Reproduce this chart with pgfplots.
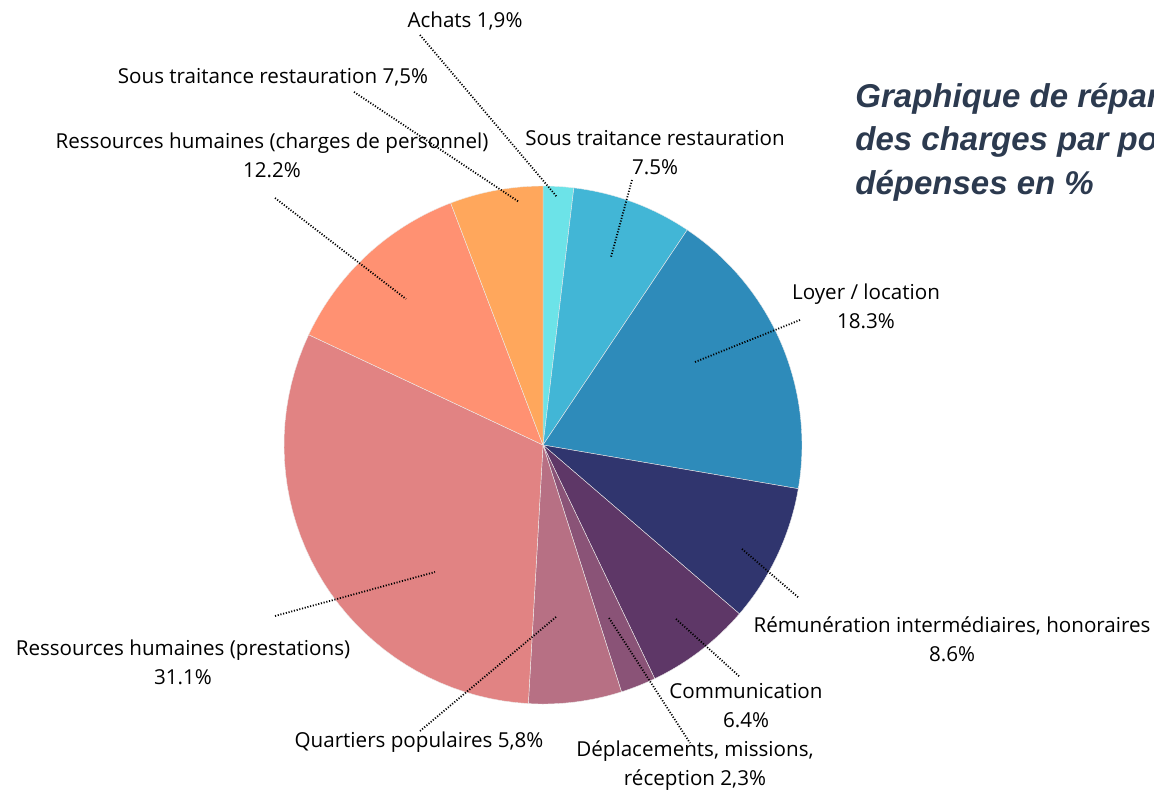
\documentclass[border=0pt]{standalone}
\usepackage{pgfplots}
\pgfplotsset{compat=1.18}
\usepackage{fontspec}
\setmainfont{Open Sans}
\newfontfamily\titlefont{Liberation Sans}
\definecolor{cAch}{HTML}{6CE3E8}
\definecolor{cST}{HTML}{42B6D6}
\definecolor{cLoy}{HTML}{2E8BBA}
\definecolor{cRem}{HTML}{30356E}
\definecolor{cCom}{HTML}{5E3767}
\definecolor{cDep}{HTML}{8A5377}
\definecolor{cQua}{HTML}{B77084}
\definecolor{cRHp}{HTML}{E18383}
\definecolor{cRHc}{HTML}{FF9172}
\definecolor{cSTb}{HTML}{FFA75C}
\definecolor{titlec}{HTML}{2C3A4F}
% slice values (share of the circle, %)
\def\vA{1.9}  % Achats
\def\vB{7.5}  % Sous traitance restauration
\def\vC{18.3} % Loyer
\def\vD{8.6}  % Remuneration
\def\vE{6.6}  % Communication
\def\vF{2.2}  % Deplacements
\def\vG{5.8}  % Quartiers populaires
\def\vH{31.1} % RH prestations
\def\vI{12.2} % RH charges
\def\vJ{5.8}  % Sous traitance restauration (2)
\begin{document}
\begin{tikzpicture}
\useasboundingbox (0,0) rectangle (577pt,395.5pt);
\clip (0,0) rectangle (577pt,395.5pt);
\begin{axis}[
  at={(0,0)}, anchor=south west,
  scale only axis, width=577pt, height=395.5pt,
  xmin=0, xmax=1154, ymin=0, ymax=791, y dir=reverse,
  hide axis, clip=false,
  every axis plot/.append style={draw=white!85!gray, line width=0.2pt, samples=40},
]
\newcommand{\slice}[3]{%
  \addplot[fill=#1, domain={90-3.6*(#3)}:{90-3.6*(#2)}]
    ({543+259*cos(x)},{445-259*sin(x)}) -- (543,445) -- cycle;}
\slice{cAch}{0}{\vA}
\slice{cST}{\vA}{\vA+\vB}
\slice{cLoy}{\vA+\vB}{\vA+\vB+\vC}
\slice{cRem}{\vA+\vB+\vC}{\vA+\vB+\vC+\vD}
\slice{cCom}{\vA+\vB+\vC+\vD}{\vA+\vB+\vC+\vD+\vE}
\slice{cDep}{\vA+\vB+\vC+\vD+\vE}{\vA+\vB+\vC+\vD+\vE+\vF}
\slice{cQua}{\vA+\vB+\vC+\vD+\vE+\vF}{\vA+\vB+\vC+\vD+\vE+\vF+\vG}
\slice{cRHp}{\vA+\vB+\vC+\vD+\vE+\vF+\vG}{\vA+\vB+\vC+\vD+\vE+\vF+\vG+\vH}
\slice{cRHc}{\vA+\vB+\vC+\vD+\vE+\vF+\vG+\vH}{\vA+\vB+\vC+\vD+\vE+\vF+\vG+\vH+\vI}
\slice{cSTb}{\vA+\vB+\vC+\vD+\vE+\vF+\vG+\vH+\vI}{\vA+\vB+\vC+\vD+\vE+\vF+\vG+\vH+\vI+\vJ}

% leader lines
\tikzset{lead/.style={black, line width=0.9pt, dash pattern=on 0.55pt off 0.85pt}}
\draw[lead] (420,35) -- (557,197);
\draw[lead] (354,92) -- (519,202);
\draw[lead] (275,198) -- (406,299);
\draw[lead] (632,180) -- (611,257);
\draw[lead] (800,320) -- (695,362);
\draw[lead] (742,549) -- (799,598);
\draw[lead] (676,619) -- (740,677);
\draw[lead] (609,618) -- (690,743);
\draw[lead] (275,616) -- (435,572);
\draw[lead] (420,731) -- (556,617);

% labels
\tikzset{lab/.style={align=center, text=black, inner sep=0pt, font=\fontsize{10.3}{14.5}\selectfont}}
\node[lab] at (465,21) {Achats 1,9\%};
\node[lab] at (273,77) {Sous traitance restauration 7,5\%};
\node[lab] at (272,155) {Ressources humaines (charges de personnel)\\12.2\%};
\node[lab] at (655,153) {Sous traitance restauration\\7.5\%};
\node[lab] at (866,306) {Loyer / location\\18.3\%};
\node[lab] at (952,639) {Rémunération intermédiaires, honoraires\\8.6\%};
\node[lab] at (746,706) {Communication\\6.4\%};
\node[lab] at (695,766) {Déplacements, missions,\\réception 2,3\%};
\node[lab] at (183,662) {Ressources humaines (prestations)\\31.1\%};
\node[lab] at (419,742) {Quartiers populaires 5,8\%};

% title
\tikzset{ttl/.style={anchor=base west, inner sep=0pt, text=titlec, font=\titlefont\bfseries\itshape\fontsize{16.5}{21.5}\selectfont}}
\node[ttl] at (855,108) {Graphique de répartition};
\node[ttl] at (855,151) {des charges par poste de};
\node[ttl] at (855,194) {dépenses en \%};
\end{axis}
\end{tikzpicture}
\end{document}
